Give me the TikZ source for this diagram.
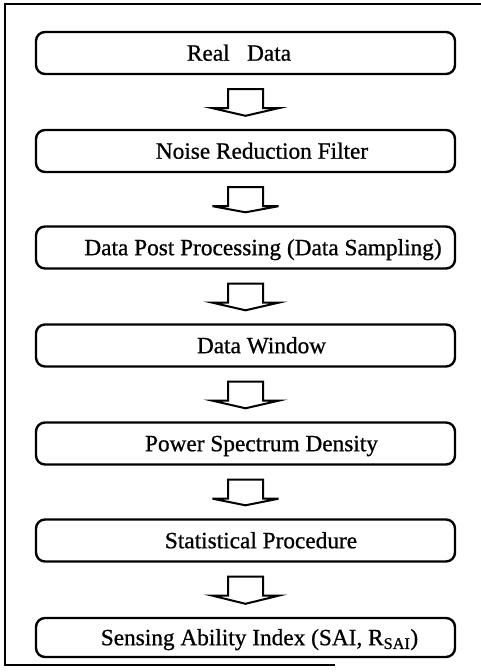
\documentclass[tikz,border=0pt]{standalone}
\usepackage{fontspec}
\setmainfont[FakeBold=0.8]{Liberation Serif}
\usetikzlibrary{calc}
\tikzset{
  stagebox/.style={draw, line width=2.4pt, rounded corners=9pt, minimum width=419pt,
    minimum height=42pt, inner sep=0pt, text height=15.4pt, text depth=0pt,
    font=\fontsize{23.3}{28}\selectfont},
  blockarrow/.style={draw, line width=2pt, fill=white, line join=miter},
  framestroke/.style={draw, line width=1.8pt}
}
\begin{document}
\begin{tikzpicture}[x=1pt, y=-1pt]
  \useasboundingbox (0,0) rectangle (481,672);
  \path[framestroke] (481,4) -- (5,4) -- (5,665) -- (335,665);

  \node[stagebox] (b1) at (245.5,53)    {Real\hspace{0.75em}Data\hspace*{13pt}};
  \node[stagebox] (b2) at (245.5,151)   {\hspace*{33pt}Noise Reduction Filter};
  \node[stagebox] (b3) at (245.5,247.5) {\hspace*{35pt}Data Post Processing (Data Sampling)};
  \node[stagebox] (b4) at (245.5,345.5) {\hspace*{32pt}Data Window};
  \node[stagebox] (b5) at (245.5,443.5) {\hspace*{32pt}Power Spectrum Density};
  \node[stagebox] (b6) at (245.5,540.5) {\hspace*{31pt}Statistical Procedure};
  \node[stagebox, minimum height=39pt] (b7) at (245.5,637.5) {\hspace*{28pt}Sensing Ability Index (SAI, R\textsubscript{SAI})};

  \foreach \a/\b in {b1/b2, b2/b3, b3/b4, b4/b5, b5/b6, b6/b7}{
    \path[blockarrow] ($(\a.south)+(-17.5,14)$) -- ($(\a.south)+(-17.5,33)$)
      -- ($(\a.south)+(-33,33)$) -- ($(\b.north)+(0,-13)$)
      -- ($(\a.south)+(33,33)$) -- ($(\a.south)+(17.5,33)$)
      -- ($(\a.south)+(17.5,14)$) -- cycle;
  }
\end{tikzpicture}
\end{document}
